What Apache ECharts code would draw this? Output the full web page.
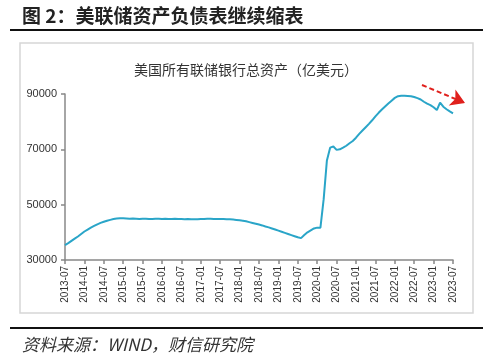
<!DOCTYPE html>
<html>
<head>
<meta charset="utf-8">
<script src="https://cdn.jsdelivr.net/npm/echarts@6/dist/echarts.min.js"></script>
<style>html,body{margin:0;padding:0;background:#fff;}#c{width:500px;height:360px;}</style>
</head>
<body>
<div id="c"></div>
<script>
// monthly categories 2013-07 .. 2023-07
var startYear = 2013, startMonth = 7, monthCount = 121;
var categories = [];
for (var k = 0; k < monthCount; k++) {
  var m = startMonth - 1 + k;
  var y = startYear + Math.floor(m / 12);
  var mm = (m % 12) + 1;
  categories.push(y + '-' + (mm < 10 ? '0' + mm : mm));
}
// 美国所有联储银行总资产（亿美元）
var totalAssets = [
  35400, 36100, 36900, 37700, 38500, 39400,
  40300, 41000, 41700, 42300, 42900, 43400,
  43800, 44200, 44500, 44800, 45000, 45100,
  45100, 45000, 44900, 45000, 44900, 44800,
  44900, 44900, 44800, 44800, 44900, 44900,
  44800, 44900, 44800, 44800, 44900, 44800,
  44800, 44700, 44800, 44700, 44700, 44700,
  44800, 44800, 44900, 44900, 44800, 44800,
  44800, 44800, 44700, 44700, 44600, 44500,
  44400, 44200, 44000, 43700, 43400, 43100,
  42800, 42500, 42100, 41800, 41400, 41000,
  40600, 40200, 39800, 39400, 39000, 38600,
  38200, 37900, 39000, 40000, 40700, 41400,
  41700, 41700, 52000, 66000, 70600, 71000,
  69800, 70000, 70600, 71300, 72200, 73000,
  74200, 75600, 76800, 78000, 79200, 80500,
  81900, 83200, 84400, 85500, 86600, 87600,
  88600, 89200, 89400, 89400, 89300, 89200,
  88900, 88500, 88000, 87200, 86500, 86000,
  85200, 84200, 86900, 85400, 84500, 83700,
  83000
];
var yTicks = [30000, 50000, 70000, 90000];
var mainTitle = '图 2：美联储资产负债表继续缩表';
var chartTitle = '美国所有联储银行总资产（亿美元）';
var sourceText = '资料来源：WIND，财信研究院';

var chart = echarts.init(document.getElementById('c'));
chart.setOption({
  backgroundColor: '#ffffff',
  animation: false,
  graphic: [
    { type: 'rect', shape: { x: 20, y: 43, width: 453, height: 270 },
      style: { fill: '#ffffff', stroke: '#d6d6d6', lineWidth: 1.5 }, z: -10 },
    { type: 'line', shape: { x1: 10, y1: 30, x2: 483, y2: 30 },
      style: { stroke: '#111', lineWidth: 2 } },
    { type: 'line', shape: { x1: 10, y1: 328, x2: 483, y2: 328 },
      style: { stroke: '#111', lineWidth: 2 } },
    { type: 'text', x: 22, y: 16,
      style: { text: mainTitle, fill: '#222', font: 'bold 19px "Noto Sans CJK SC", sans-serif',
               textAlign: 'left', textVerticalAlign: 'middle' } },
    { type: 'text', x: 246, y: 70,
      style: { text: chartTitle, fill: '#333', font: '14px "Noto Sans CJK SC", sans-serif',
               textAlign: 'center', textVerticalAlign: 'middle' } },
    { type: 'text', x: 22, y: 345,
      style: { text: sourceText, fill: '#333', font: 'italic 17px "Noto Sans CJK SC", "Liberation Serif", serif',
               textAlign: 'left', textVerticalAlign: 'middle' } }
  ],
  grid: { left: 65, right: 47, top: 94, bottom: 100, containLabel: false },
  xAxis: {
    type: 'category',
    data: categories,
    boundaryGap: false,
    axisLine: { lineStyle: { color: '#888', width: 1.5 } },
    axisTick: { show: true, interval: 5, length: 4, lineStyle: { color: '#888', width: 1.5 } },
    axisLabel: { interval: 5, rotate: 90, fontSize: 10, color: '#333',
                 fontFamily: '"Liberation Sans", Arial, sans-serif', margin: 6 },
    splitLine: { show: false }
  },
  yAxis: {
    type: 'value',
    min: yTicks[0],
    max: yTicks[yTicks.length - 1],
    interval: 20000,
    axisLine: { show: true, lineStyle: { color: '#888', width: 1.5 } },
    axisTick: { show: true, length: 4, lineStyle: { color: '#888', width: 1.5 } },
    axisLabel: { fontSize: 11, color: '#333', fontFamily: '"Liberation Sans", Arial, sans-serif', margin: 8,
                 formatter: function (v) { return String(v); } },
    splitLine: { show: false }
  },
  series: [{
    type: 'line',
    data: totalAssets,
    showSymbol: false,
    symbol: 'none',
    lineStyle: { color: '#2aa5c8', width: 2 },
    markLine: {
      silent: true,
      symbol: ['none', 'arrow'],
      symbolSize: [13, 14],
      label: { show: false },
      lineStyle: { type: [5, 3], color: '#e0201c', width: 2 },
      itemStyle: { color: '#e0201c' },
      data: [[{ x: 422, y: 85 }, { x: 465, y: 103 }]]
    }
  }]
});
</script>
</body>
</html>
